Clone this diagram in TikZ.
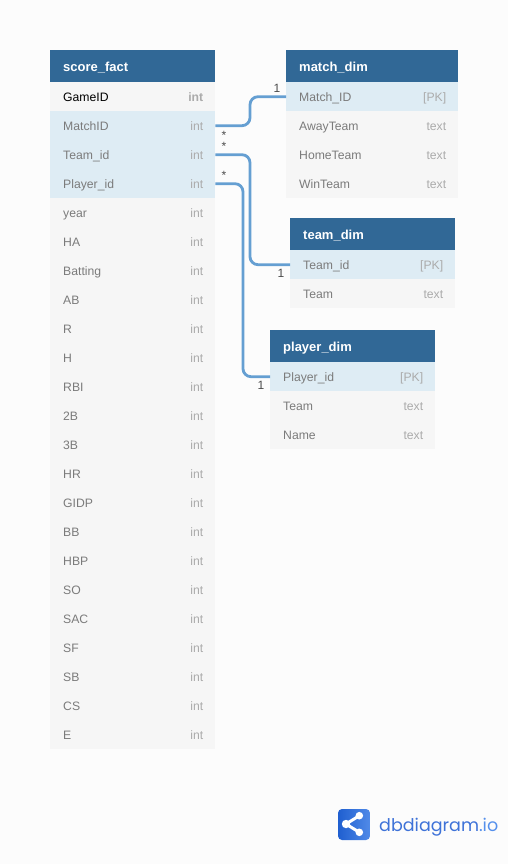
\documentclass[tikz,border=0pt]{standalone}
\usepackage{fontspec}
\setmainfont{Liberation Sans}
\newfontfamily\logofont{Poppins}
\definecolor{pagebg}{HTML}{FCFCFC}
\definecolor{headblue}{HTML}{316896}
\definecolor{rowplain}{HTML}{F6F6F6}
\definecolor{rowkey}{HTML}{DEECF4}
\definecolor{linkblue}{HTML}{659FD2}
\definecolor{fieldgray}{HTML}{7B7B7B}
\definecolor{typegray}{HTML}{ABABAB}
\definecolor{logoblue}{HTML}{3E72D8}
\definecolor{logolight}{HTML}{5590EC}
\definecolor{logodark}{HTML}{1F5FD0}
\tikzset{
  headbox/.style={fill=headblue, inner sep=0pt, minimum height=32pt, anchor=north west},
  rowbox/.style={inner sep=0pt, minimum height=29pt, anchor=north west},
  headtext/.style={text=white, font=\fontsize{13}{15}\selectfont\bfseries, inner sep=0pt, anchor=base west},
  fieldtext/.style={text=fieldgray, font=\fontsize{12.2}{15}\selectfont, inner sep=0pt, anchor=base west},
  typetext/.style={text=typegray, font=\fontsize{12.2}{15}\selectfont, inner sep=0pt, anchor=base east},
  marktext/.style={text=black!70, font=\fontsize{12}{14}\selectfont, inner sep=0pt},
  rellink/.style={draw=linkblue, line width=2.8pt, rounded corners=8pt}
}
\begin{document}
\begin{tikzpicture}[x=1pt,y=-1pt]
  \useasboundingbox (0,0) rectangle (508,864);
  \fill[pagebg] (0,0) rectangle (508,864);

  % score_fact
  \node[headbox, minimum width=165pt] (scorehead) at (50,50) {};
  \node[headtext] (scoretitle) at ([shift={(13pt,-5pt)}]scorehead.west) {score\_fact};
  \foreach \field/\ftype/\fcol [count=\i] in {%
      \textcolor{black}{GameID}/\textbf{int}/rowplain, MatchID/int/rowkey, Team\_id/int/rowkey,
      Player\_id/int/rowkey, year/int/rowplain, HA/int/rowplain, Batting/int/rowplain,
      AB/int/rowplain, R/int/rowplain, H/int/rowplain, RBI/int/rowplain, 2B/int/rowplain,
      3B/int/rowplain, HR/int/rowplain, GIDP/int/rowplain, BB/int/rowplain, HBP/int/rowplain,
      SO/int/rowplain, SAC/int/rowplain, SF/int/rowplain, SB/int/rowplain, CS/int/rowplain,
      E/int/rowplain} {
    \node[rowbox, fill=\fcol, minimum width=165pt] (score\i) at (50,{82+29*(\i-1)}) {};
    \node[fieldtext] (scorename\i) at ([shift={(13pt,-4.5pt)}]score\i.west) {\field};
    \node[typetext] (scoretype\i) at ([shift={(-12pt,-4.5pt)}]score\i.east) {\ftype};
  }

  % match_dim
  \node[headbox, minimum width=172pt] (matchhead) at (286,50) {};
  \node[headtext] (matchtitle) at ([shift={(13pt,-5pt)}]matchhead.west) {match\_dim};
  \foreach \field/\ftype/\fcol [count=\i] in {%
      Match\_ID/{[PK]}/rowkey, AwayTeam/text/rowplain, HomeTeam/text/rowplain, WinTeam/text/rowplain} {
    \node[rowbox, fill=\fcol, minimum width=172pt] (match\i) at (286,{82+29*(\i-1)}) {};
    \node[fieldtext] (matchname\i) at ([shift={(13pt,-4.5pt)}]match\i.west) {\field};
    \node[typetext] (matchtype\i) at ([shift={(-12pt,-4.5pt)}]match\i.east) {\ftype};
  }

  % team_dim
  \node[headbox, minimum width=165pt] (teamhead) at (290,218) {};
  \node[headtext] (teamtitle) at ([shift={(13pt,-5pt)}]teamhead.west) {team\_dim};
  \foreach \field/\ftype/\fcol [count=\i] in {%
      Team\_id/{[PK]}/rowkey, Team/text/rowplain} {
    \node[rowbox, fill=\fcol, minimum width=165pt] (team\i) at (290,{250+29*(\i-1)}) {};
    \node[fieldtext] (teamname\i) at ([shift={(13pt,-4.5pt)}]team\i.west) {\field};
    \node[typetext] (teamtype\i) at ([shift={(-12pt,-4.5pt)}]team\i.east) {\ftype};
  }

  % player_dim
  \node[headbox, minimum width=165pt] (playerhead) at (270,330) {};
  \node[headtext] (playertitle) at ([shift={(13pt,-5pt)}]playerhead.west) {player\_dim};
  \foreach \field/\ftype/\fcol [count=\i] in {%
      Player\_id/{[PK]}/rowkey, Team/text/rowplain, Name/text/rowplain} {
    \node[rowbox, fill=\fcol, minimum width=165pt] (player\i) at (270,{362+29*(\i-1)}) {};
    \node[fieldtext] (playername\i) at ([shift={(13pt,-4.5pt)}]player\i.west) {\field};
    \node[typetext] (playertype\i) at ([shift={(-12pt,-4.5pt)}]player\i.east) {\ftype};
  }

  % links
  \coordinate (bendmatch) at (250,126);
  \coordinate (bendteam) at (250,155);
  \coordinate (bendplayer) at (243,184);
  \draw[rellink] (score2.east) -- (bendmatch |- score2.east) -- (bendmatch |- match1.west) -- (match1.west);
  \draw[rellink] (score3.east) -- (bendteam |- score3.east) -- (bendteam |- team1.west) -- (team1.west);
  \draw[rellink] (score4.east) -- (bendplayer |- score4.east) -- (bendplayer |- player1.west) -- (player1.west);

  \node[marktext] (manymatch) at (224,135) {*};
  \node[marktext] (manyteam) at (224,146) {*};
  \node[marktext] (manyplayer) at (224,175) {*};
  \node[marktext] (onematch) at (277,88) {1};
  \node[marktext] (oneteam) at (281,273) {1};
  \node[marktext] (oneplayer) at (261,385) {1};

  % logo
  \shade[rounded corners=4pt, left color=logodark, right color=logolight!80!logoblue] (338,809) rectangle (370,840);
  \draw[white, line width=3pt] (359.3,815.7) -- (346,824) -- (359.3,832.3);
  \fill[white] (346,824) circle (4.2pt);
  \fill[white] (359.3,815.7) circle (3.8pt);
  \fill[white] (359.3,832.3) circle (3.8pt);
  \node[inner sep=0pt, anchor=base west, font=\fontsize{17.5}{20}\logofont] (logotext) at (379,831) {\textcolor{logoblue}{dbdiagram}\textcolor{logolight}{.io}};
\end{tikzpicture}
\end{document}
